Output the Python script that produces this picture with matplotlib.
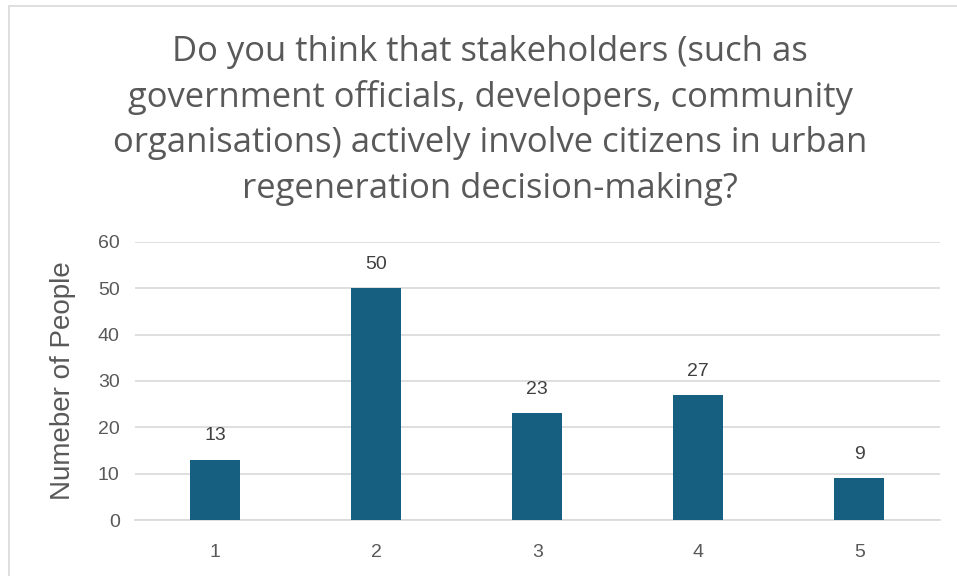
import matplotlib.pyplot as plt
from matplotlib.patches import Rectangle

# Survey responses per rating
categories = ["1", "2", "3", "4", "5"]
counts = [13, 50, 23, 27, 9]

title = ("Do you think that stakeholders (such as\n"
         "government officials, developers, community\n"
         "organisations) actively involve citizens in urban\n"
         "regeneration decision-making?")

BAR_COLOR = "#175f80"
TEXT_COLOR = "#595959"
GRID_COLOR = "#d9d9d9"

fig = plt.figure(figsize=(9.57, 5.76), dpi=100)
ax = fig.add_axes([0.141, 0.0972, 0.841, 0.483])

# chart frame
fig.patches.append(Rectangle((9 / 957, -0.05), 1.0, 1 - 6 / 576 + 0.05,
                             transform=fig.transFigure, fill=False,
                             edgecolor="#d9d9d9", linewidth=1.2))

x = list(range(len(categories)))
bars = ax.bar(x, counts, width=0.31, color=BAR_COLOR, zorder=3)
for b, v in zip(bars, counts):
    ax.text(b.get_x() + b.get_width() / 2, v + 3.3, str(v),
            ha="center", va="bottom", fontsize=14, color="#404040",
            family="Liberation Sans")

ax.set_xlim(-0.5, len(categories) - 0.5)
ax.set_ylim(0, 60)
ax.set_yticks(range(0, 61, 10))
ax.set_xticks(x)
ax.set_xticklabels(categories)
ax.grid(axis="y", color=GRID_COLOR, linewidth=1.2, zorder=0)
for s in ["top", "right", "left"]:
    ax.spines[s].set_visible(False)
ax.spines["bottom"].set_color(GRID_COLOR)
ax.spines["bottom"].set_linewidth(1.2)
ax.tick_params(length=0, labelsize=14, colors=TEXT_COLOR)
ax.tick_params(axis="x", pad=17)
ax.tick_params(axis="y", pad=11)
for lbl in ax.get_xticklabels() + ax.get_yticklabels():
    lbl.set_family("Liberation Sans")

ax.set_ylabel("Numeber of People", fontsize=20, color=TEXT_COLOR,
              family="Liberation Sans")
ax.yaxis.set_label_coords((76 - 135) / 805, 0.5)

fig.text(0.512, 0.94, title, ha="center", va="top", fontsize=24.9,
         color=TEXT_COLOR, family="Open Sans", linespacing=1.43)

fig.savefig("out.png", dpi=100)
